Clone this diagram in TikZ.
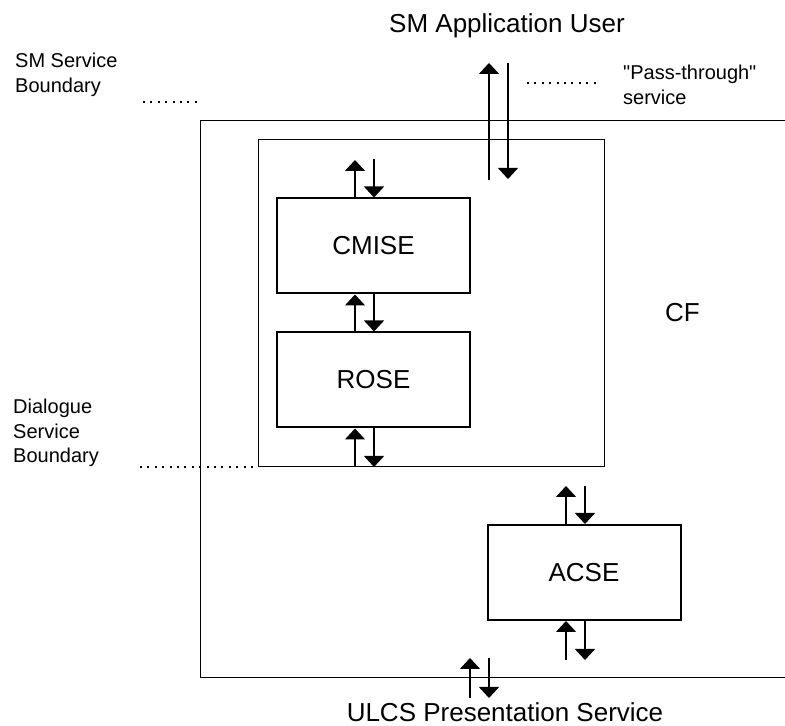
\documentclass[tikz,border=0pt]{standalone}
\usepackage{fontspec}
\setmainfont{Liberation Sans}[Ligatures=TeXOff]
\usetikzlibrary{arrows.meta}
\begin{document}
\begin{tikzpicture}[x=1pt,y=1pt,
  thinbox/.style={draw,line width=1pt},
  blockbox/.style={draw,line width=2pt,minimum width=193pt,minimum height=95pt,inner sep=0pt,font=\fontsize{26}{30}\selectfont},
  arr/.style={line width=1.4pt,-{Triangle[width=20pt,length=11pt]}},
  dotline/.style={line width=1.8pt,dash pattern=on 2pt off 5.4pt},
  lbl/.style={align=left,anchor=north west,inner sep=0pt,font=\fontsize{20}{24.5}\selectfont},
  ttl/.style={anchor=base,inner sep=0pt,font=\fontsize{26}{30}\selectfont}]
\useasboundingbox (0,0) rectangle (785,726);
\clip (0,0) rectangle (785,726);
% boxes
\draw[thinbox] (200,605) rectangle (800,48);
\draw[thinbox] (258,586) rectangle (604,259);
\node[blockbox] (cmise) at (373.5,480) {CMISE};
\node[blockbox] (rose) at (373.5,346) {ROSE};
\node[blockbox] (acse) at (584,153.5) {ACSE};
% free arrow ends
\coordinate (cmU) at (355,566);
\coordinate (cmD) at (374,567);
\coordinate (roU) at (355,259);
\coordinate (roD) at (374,259);
\coordinate (ptU0) at (489,546);
\coordinate (ptU1) at (489,663);
\coordinate (ptD0) at (508,663);
\coordinate (ptD1) at (508,547);
\coordinate (acU) at (566,240);
\coordinate (acD) at (585,240);
\coordinate (abU) at (566,66);
\coordinate (abD) at (585,66);
\coordinate (buU0) at (470,28);
\coordinate (buU1) at (470,68);
\coordinate (buD0) at (489,68);
\coordinate (buD1) at (489,28);
% arrows
\draw[arr] (cmise.north -| cmU) -- (cmU);
\draw[arr] (cmD) -- (cmise.north -| cmD);
\draw[arr] (rose.north -| cmU) -- (cmise.south -| cmU);
\draw[arr] (cmise.south -| cmD) -- (rose.north -| cmD);
\draw[arr] (roU) -- (rose.south -| roU);
\draw[arr] (rose.south -| roD) -- (roD);
\draw[arr] (ptU0) -- (ptU1);
\draw[arr] (ptD0) -- (ptD1);
\draw[arr] (acse.north -| acU) -- (acU);
\draw[arr] (acD) -- (acse.north -| acD);
\draw[arr] (abU) -- (acse.south -| abU);
\draw[arr] (acse.south -| abD) -- (abD);
\draw[arr] (buU0) -- (buU1);
\draw[arr] (buD0) -- (buD1);
% dotted lines
\coordinate (d1a) at (143,624); \coordinate (d1b) at (200,624);
\coordinate (d2a) at (527,643); \coordinate (d2b) at (600,643);
\coordinate (d3a) at (140,259); \coordinate (d3b) at (258,259);
\draw[dotline] (d1a) -- (d1b);
\draw[dotline] (d2a) -- (d2b);
\draw[dotline] (d3a) -- (d3b);
% labels
\node[ttl] (top) at (507,693) {SM Application User};
\node[ttl] (bot) at (505,5) {ULCS Presentation Service};
\node[lbl] (smb) at (15,673) {SM Service\\Boundary};
\node[lbl] (pts) at (623,661) {"Pass-through"\\service};
\node[lbl] (dsb) at (13,327) {Dialogue\\Service\\Boundary};
\node[anchor=base west,inner sep=0pt,font=\fontsize{26}{30}\selectfont] (cf) at (665,404) {CF};
\end{tikzpicture}
\end{document}
